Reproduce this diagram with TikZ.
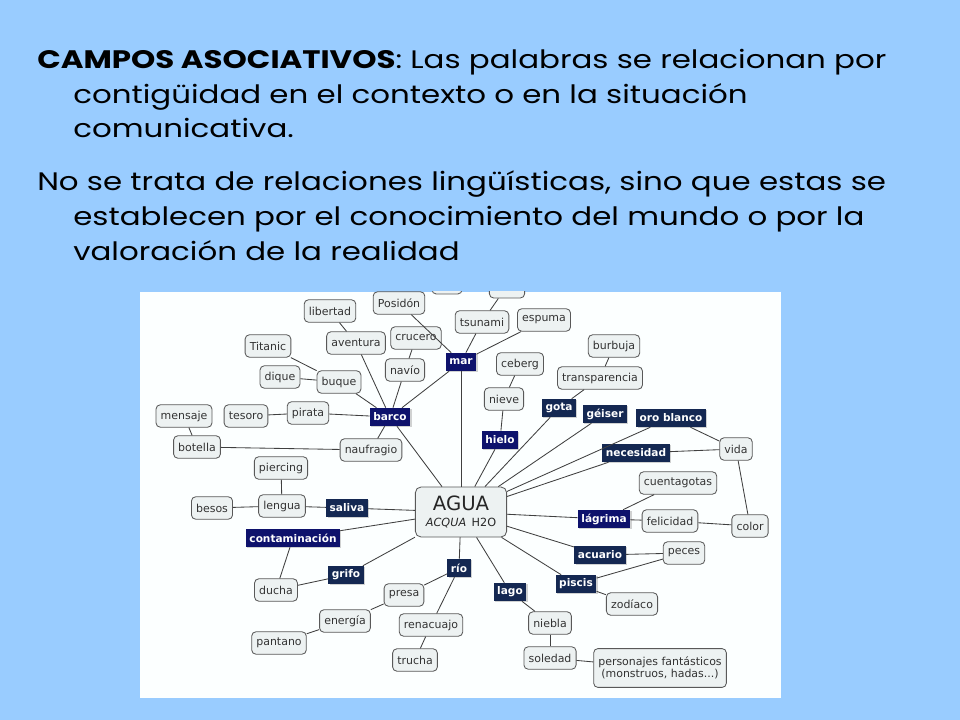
\documentclass[tikz,border=0pt]{standalone}
\usepackage{fontspec}
\setmainfont{Poppins}[FakeStretch=1.22]
\newfontfamily\mapfont{DejaVu Sans}
\usetikzlibrary{shadows}

\definecolor{slideblue}{RGB}{153,204,255}
\definecolor{mapwhite}{RGB}{252,255,255}
\definecolor{boxfill}{RGB}{237,242,242}
\definecolor{deepblue}{RGB}{14,18,108}
\definecolor{navyblue}{RGB}{20,40,82}

\begin{document}
\begin{tikzpicture}[x=0.025cm,y=-0.025cm,
        text line/.style={anchor=base west,inner sep=0pt,font=\fontsize{18}{21}\selectfont},
        term node/.style={draw=black!65,fill=boxfill,rounded corners=3pt,line width=0.6pt,
            font=\mapfont\fontsize{7.8}{9}\selectfont,text=black!80,inner xsep=3.3pt,
            minimum height=0.56cm},
        link node/.style={fill=navyblue,text=white,font=\mapfont\bfseries\fontsize{7.5}{8}\selectfont,
            inner xsep=2.5pt,inner ysep=0pt,minimum height=0.45cm,
            drop shadow={opacity=0.35,shadow xshift=1pt,shadow yshift=-1pt}},
        core node/.style={draw=black!65,fill=boxfill,rounded corners=4pt,line width=0.6pt,
            align=center,minimum width=2.28cm,minimum height=1.25cm,text=black!85},
        connector/.style={draw=black!75,line width=0.6pt}]
    \useasboundingbox (0,0) rectangle (960,720);
    \fill[slideblue] (0,0) rectangle (960,720);

    % texto de la diapositiva
    \node[text line] (t1) at (37,69) {\textbf{CAMPOS ASOCIATIVOS}: Las palabras se relacionan por};
    \node[text line] (t2) at (73,104) {contigüidad en el contexto o en la situación};
    \node[text line] (t3) at (73,138) {comunicativa.};
    \node[text line] (t4) at (37,191) {No se trata de relaciones lingüísticas, sino que estas se};
    \node[text line] (t5) at (73,226) {establecen por el conocimiento del mundo o por la};
    \node[text line] (t6) at (73,261) {valoración de la realidad};

    % mapa
    \fill[mapwhite] (140,292) rectangle (781,698);
    \begin{scope}
    \clip (140,292) rectangle (781,698);
    \node[term node,minimum width=0.75cm,minimum height=0.6cm] (cutA) at (447,282) {};
    \node[term node,minimum width=0.88cm,minimum height=0.6cm] (cutB) at (507,286) {};

    \node[core node] (agua) at (461,512) {{\mapfont\fontsize{14}{15}\selectfont AGUA}\\[-1pt]
        {\mapfont\fontsize{8}{9}\selectfont\textit{ACQUA}\, H2O}};

    \node[term node] (libertad) at (330,311) {libertad};
    \node[term node] (posidon) at (399,303) {Posidón};
    \node[term node] (titanic) at (268,346) {Titanic};
    \node[term node] (aventura) at (356,343) {aventura};
    \node[term node] (crucero) at (416,338) {crucero};
    \node[term node] (dique) at (280,377) {dique};
    \node[term node] (buque) at (339,382) {buque};
    \node[term node] (navio) at (405,370) {navío};
    \node[link node,fill=deepblue] (mar) at (461,362) {mar};
    \node[term node] (tsunami) at (482,322) {tsunami};
    \node[term node] (espuma) at (544,320) {espuma};
    \node[term node] (mensaje) at (184,416) {mensaje};
    \node[term node] (tesoro) at (246,416) {tesoro};
    \node[term node] (pirata) at (308,413) {pirata};
    \node[link node,fill=deepblue] (barco) at (390,417) {barco};
    \node[term node] (botella) at (197,447) {botella};
    \node[term node] (naufragio) at (371,450) {naufragio};

    \node[term node] (burbuja) at (614,346) {burbuja};
    \node[term node] (ceberg) at (520,364) {ceberg};
    \node[term node] (transparencia) at (600,378) {transparencia};
    \node[term node] (nieve) at (504,399) {nieve};
    \node[link node] (gota) at (559,408) {gota};
    \node[link node] (geiser) at (605,414) {géiser};
    \node[link node] (oroblanco) at (671,418) {oro blanco};
    \node[link node,fill=deepblue] (hielo) at (500,440) {hielo};
    \node[term node] (vida) at (736,449) {vida};
    \node[link node] (necesidad) at (636,453) {necesidad};

    \node[term node] (piercing) at (281,468) {piercing};
    \node[term node] (besos) at (212,508) {besos};
    \node[term node] (lengua) at (282,506) {lengua};
    \node[link node] (saliva) at (347,508) {saliva};
    \node[link node,fill=deepblue] (contaminacion) at (293,538) {contaminación};
    \node[link node] (grifo) at (346,575) {grifo};
    \node[link node] (rio) at (459,568) {río};
    \node[term node] (ducha) at (276,590) {ducha};
    \node[term node] (presa) at (404,595) {presa};
    \node[term node] (energia) at (345,621) {energía};
    \node[term node] (renacuajo) at (431,625) {renacuajo};
    \node[term node] (pantano) at (279,643) {pantano};
    \node[term node] (trucha) at (415,660) {trucha};

    \node[term node] (cuentagotas) at (678,483) {cuentagotas};
    \node[link node,fill=deepblue] (lagrima) at (604,519) {lágrima};
    \node[term node] (felicidad) at (670,521) {felicidad};
    \node[term node] (color) at (750,526) {color};
    \node[term node] (peces) at (684,553) {peces};
    \node[link node] (acuario) at (600,555) {acuario};
    \node[link node] (piscis) at (576,584) {piscis};
    \node[link node] (lago) at (510,592) {lago};
    \node[term node] (zodiaco) at (632,604) {zodíaco};
    \node[term node] (niebla) at (550,623) {niebla};
    \node[term node] (soledad) at (550,658) {soledad};
    \node[term node,align=center,minimum height=0.97cm] (personajes) at (660,668)
        {personajes fantásticos\\(monstruos, hadas...)};

    \path[connector]
        (libertad) edge (aventura)
        (aventura) edge (barco)
        (titanic) edge (buque)
        (dique) edge (buque)
        (buque) edge (barco)
        (crucero) edge (navio)
        (navio) edge (barco)
        (mar) edge (barco)
        (posidon) edge (mar)
        (tsunami) edge (mar)
        (tsunami) edge (cutB)
        (espuma) edge (mar)
        (mar) edge (agua)
        (mensaje) edge (botella)
        (tesoro) edge (pirata)
        (pirata) edge (barco)
        (botella) edge (naufragio)
        (naufragio) edge (barco)
        (barco) edge (agua)
        (ceberg) edge (nieve)
        (nieve) edge (hielo)
        (hielo) edge (agua)
        (burbuja) edge (transparencia)
        (transparencia) edge (gota)
        (gota) edge (agua)
        (geiser) edge (agua)
        (oroblanco) edge (agua)
        (oroblanco) edge (vida)
        (necesidad) edge (vida)
        (necesidad) edge (agua)
        (vida) edge (color)
        (piercing) edge (lengua)
        (besos) edge (lengua)
        (lengua) edge (saliva)
        (saliva) edge (agua)
        (contaminacion) edge (agua)
        (contaminacion) edge (ducha)
        (ducha) edge (grifo)
        (grifo) edge (agua)
        (rio) edge (agua)
        (rio) edge (presa)
        (presa) edge (energia)
        (energia) edge (pantano)
        (rio) edge (renacuajo)
        (renacuajo) edge (trucha)
        (lago) edge (agua)
        (lago) edge (niebla)
        (niebla) edge (soledad)
        (soledad) edge (personajes)
        (lagrima) edge (agua)
        (lagrima) edge (cuentagotas)
        (lagrima) edge (felicidad)
        (felicidad) edge (color)
        (acuario) edge (agua)
        (acuario) edge (peces)
        (piscis) edge (agua)
        (piscis) edge (peces)
        (piscis) edge (zodiaco);
    \end{scope}
\end{tikzpicture}
\end{document}
